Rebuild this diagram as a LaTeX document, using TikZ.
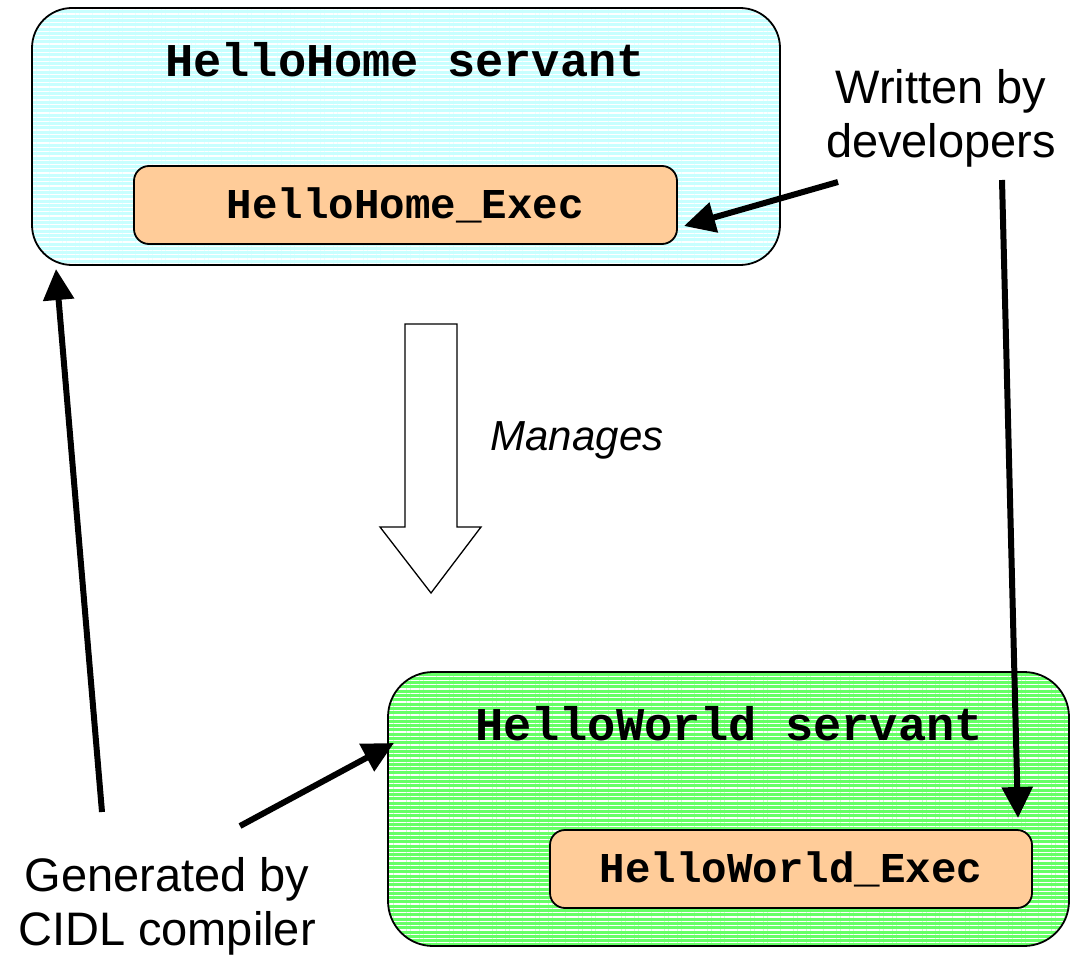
\documentclass[tikz,border=0pt]{standalone}
\usepackage{fontspec}
\setmainfont{Liberation Sans}
\newfontfamily\codefont{Liberation Mono}
\usetikzlibrary{arrows.meta,patterns.meta}
\definecolor{homecyan}{HTML}{C8FFFF}
\definecolor{worldgreen}{HTML}{66FF66}
\definecolor{peach}{HTML}{FFCC99}
\tikzset{
  striped/.style={preaction={fill=#1},
    pattern={Lines[angle=0,distance=4.3pt,line width=1.3pt]},
    pattern color=white},
  servant/.style={draw=black, line width=1.8pt, rounded corners=40pt},
  execbox/.style={draw=black, line width=1.8pt, rounded corners=15pt, fill=peach},
  title/.style={font=\codefont\bfseries\fontsize{47}{50}\selectfont},
  execlabel/.style={font=\codefont\bfseries\fontsize{42.5}{45}\selectfont},
  note/.style={font=\fontsize{47}{54}\selectfont, align=center},
  pointer/.style={line width=6pt, -{Triangle[length=31pt,width=30pt]}},
  hollow/.style={draw=black, line width=1.3pt, fill=white, line join=miter}
}
\begin{document}
\begin{tikzpicture}[x=1pt,y=-1pt]
\useasboundingbox (0,0) rectangle (1070,960);

% servant containers
\path[servant, striped=homecyan] (32,8) rectangle (780,265);
\node[title] (hometitle) at (405,60) {HelloHome servant};
\node[execbox, minimum width=543pt, minimum height=78pt] (homeexec) at (405.5,205) {};
\node[execlabel] at (homeexec.center) {HelloHome\_Exec};

\path[servant, striped=worldgreen, rounded corners=45pt] (388,672) rectangle (1069,946);
\node[title] (worldtitle) at (729,724) {HelloWorld servant};
\node[execbox, minimum width=482pt, minimum height=78pt] (worldexec) at (791,869) {};
\node[execlabel] at (worldexec.center) {HelloWorld\_Exec};

% "manages" relation
\draw[hollow] (405,324) -- (457,324) -- (457,527) -- (481,527) -- (431,593)
  -- (380,527) -- (405,527) -- cycle;
\node[font=\itshape\fontsize{42}{45}\selectfont] (manages) at (577,440) {Manages};

% annotations
\node[note] (dev) at (941,118) {Written by\\developers};
\node[note] (gen) at (167,906) {Generated by\\CIDL compiler};

\coordinate (devA) at (838,182);
\coordinate (devB) at (1002,180);
\coordinate (homeExecTip) at (684,226);
\coordinate (worldExecTip) at (1018,818);
\coordinate (genA) at (102,812);
\coordinate (genB) at (240,826);
\coordinate (homeTip) at (56,269);
\coordinate (worldTip) at (394,743);

\draw[pointer] (devA) -- (homeExecTip);
\draw[pointer] (devB) -- (worldExecTip);
\draw[pointer] (genA) -- (homeTip);
\draw[pointer] (genB) -- (worldTip);
\end{tikzpicture}
\end{document}
